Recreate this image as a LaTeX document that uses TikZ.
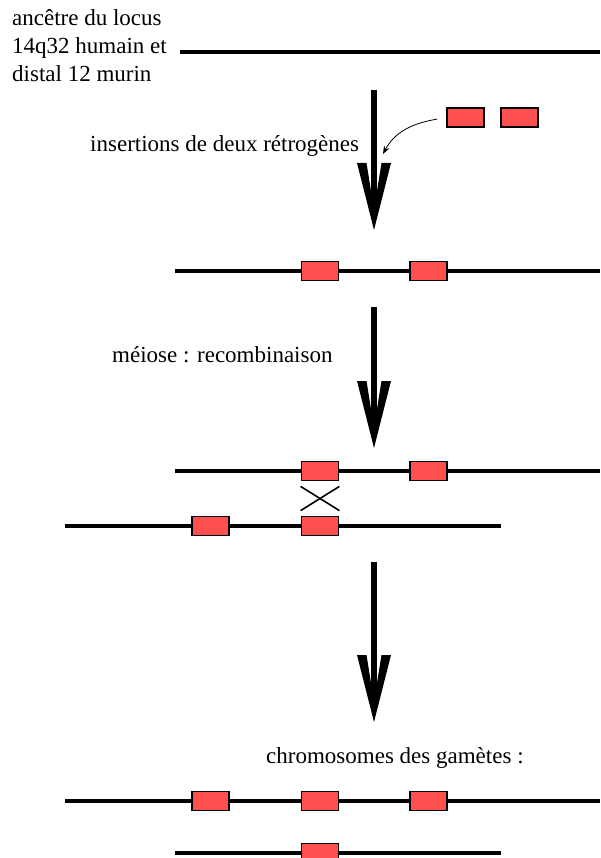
\documentclass[tikz,border=0pt]{standalone}
\usepackage{fontspec}
\setmainfont{Liberation Serif}
\usetikzlibrary{arrows.meta,calc}
\definecolor{genered}{RGB}{255,80,80}
\begin{document}
\begin{tikzpicture}[x=1pt, y=-1pt, font=\fontsize{23}{28}\selectfont, line join=miter, line cap=butt,
		chrom/.style={line width=4pt},
		gene/.style={draw=black, fill=genered, line width=1.8pt, minimum width=37pt, minimum height=19pt, inner sep=0pt},
		shaft/.style={line width=6pt, shorten >=36pt},
		headdown/.pic={\fill (0,0) -- (-17,-67) -- (-7.5,-67) -- (-2.5,-36) -- (2.5,-36) -- (7.5,-67) -- (17,-67) -- cycle;},
		label/.style={anchor=base west, inner sep=0pt}]
		\useasboundingbox (0,0) rectangle (600,858);
		% ancetre
		\node[label] (t1) at (12,26) {ancêtre du locus};
		\node[label] (t2) at (12,54) {14q32 humain et};
		\node[label] (t3) at (12,82) {distal 12 murin};
		\draw[chrom] (180,52) -- (600,52);
		% insertions
		\coordinate (a1s) at (374,90);
		\coordinate (a1e) at (374,230);
		\draw[shaft] (a1s) -- (a1e);
		\pic at (a1e) {headdown};
		\node[label] (ins) at (90,152) {insertions de deux rétrogènes};
		\node[gene] (r1) at (465.5,117.5) {};
		\node[gene] (r2) at (519.5,117.5) {};
		\coordinate (ri) at (383,154);
		\draw[line width=0.8pt, -{Stealth[length=8pt, width=6pt]}, shorten <=9pt] (r1.west) to[out=190, in=62] (ri);
		\draw[chrom] (175,271) -- (600,271);
		\node[gene] (g1) at (320,271) {};
		\node[gene] (g2) at (428.5,271) {};
		% meiose
		\coordinate (a2s) at (374,307);
		\coordinate (a2e) at (374,448);
		\draw[shaft] (a2s) -- (a2e);
		\pic at (a2e) {headdown};
		\node[label] (mei) at (112,362) {méiose : recombinaison};
		\draw[chrom] (175,471) -- (600,471);
		\node[gene] (m1) at (320,471) {};
		\node[gene] (m2) at (428.5,471) {};
		\draw[chrom] (65,526) -- (501,526);
		\node[gene] (m3) at (210.5,526) {};
		\node[gene] (m4) at (320,526) {};
		\draw[line width=1.6pt] (m1.south west) ++(0,5) coordinate (x1) -- ($(m4.north east)+(0,-5)$) coordinate (x2);
		\draw[line width=1.6pt] (m1.south east) ++(0,5) coordinate (x3) -- ($(m4.north west)+(0,-5)$) coordinate (x4);
		% gametes
		\coordinate (a3s) at (374,562);
		\coordinate (a3e) at (374,722);
		\draw[shaft] (a3s) -- (a3e);
		\pic at (a3e) {headdown};
		\node[label] (gam) at (266,763) {chromosomes des gamètes :};
		\draw[chrom] (65,801) -- (600,801);
		\node[gene] (c1) at (210.5,801) {};
		\node[gene] (c2) at (320,801) {};
		\node[gene] (c3) at (428.5,801) {};
		\draw[chrom] (175,853) -- (501,853);
		\node[gene] (c4) at (320,853) {};
	\end{tikzpicture}
\end{document}
